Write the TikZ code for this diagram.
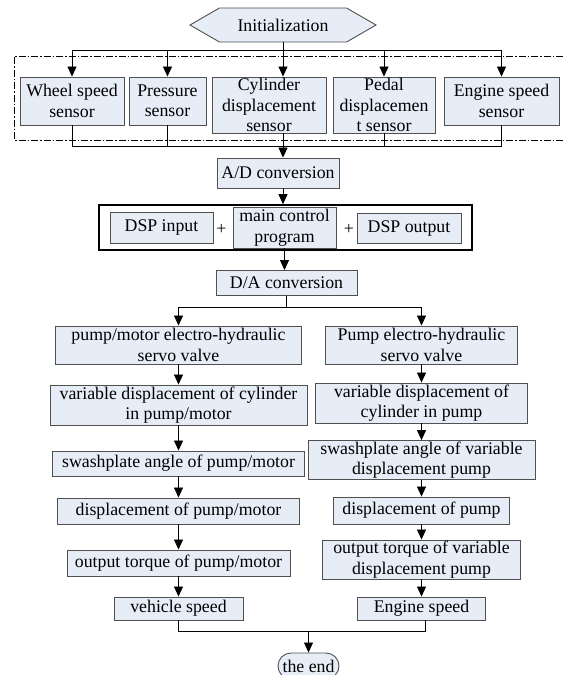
\documentclass[tikz,border=0pt]{standalone}
\usepackage{fontspec}
\setmainfont{Liberation Serif}
\usetikzlibrary{shapes.symbols, shapes.misc, positioning, arrows.meta}
\definecolor{BoxFill}{HTML}{E7EDF7}
\definecolor{BoxLine}{HTML}{505050}

\begin{document}
\begin{tikzpicture}[x=1pt, y=-1pt,
        box/.style={draw=BoxLine, fill=BoxFill, line width=0.9pt, align=center, inner sep=1pt, font=\fontsize{17.8}{20.5}\selectfont},
        arr/.style={-{Triangle[length=10pt, width=9pt]}, line width=0.8pt},
        link/.style={line width=0.8pt}]
    \useasboundingbox (0,0) rectangle (563,675);

    % Sensor frame
    \draw[line width=0.7pt, dash pattern=on 7pt off 2pt on 1.5pt off 2pt] (563,56) -- (14,56) -- (14,140) -- (563,140);

    % Initialization
    \node[box, signal, signal to=west and east, signal pointer angle=60, minimum width=186, minimum height=34] (init) at (283,25) {Initialization};

    % Sensors
    \node[box, minimum width=104, minimum height=48] (wheel) at (72,101) {Wheel speed\\sensor};
    \node[box, minimum width=77, minimum height=48] (pressure) at (167.5,101) {Pressure\\sensor};
    \node[box, minimum width=114, minimum height=56] (cylinder) at (269,105) {Cylinder\\displacement\\sensor};
    \node[box, minimum width=102, minimum height=56] (pedal) at (384,105) {Pedal\\displacemen\\t sensor};
    \node[box, minimum width=115, minimum height=48] (engine) at (501.5,101) {Engine speed\\sensor};

    % A/D
    \node[box, minimum width=122, minimum height=30] (ad) at (278,173) {A/D conversion};

    % DSP
    \node[draw, line width=1.6pt, minimum width=373, minimum height=45] (dsp) at (285.5,227.5) {};
    \node[box, minimum width=103, minimum height=31] (dspin) at (161.5,227.5) {DSP input};
    \node[font=\fontsize{17.8}{20.5}\selectfont] (plusa) at (221.5,229) {+};
    \node[box, minimum width=103, minimum height=41] (mcp) at (284.5,227.5) {main control\\program};
    \node[font=\fontsize{17.8}{20.5}\selectfont] (plusb) at (349,229) {+};
    \node[box, minimum width=104, minimum height=30] (dspout) at (409,228) {DSP output};

    % D/A
    \node[box, minimum width=141, minimum height=25] (da) at (286.5,283) {D/A conversion};

    % Pump/motor branch
    \node[box, minimum width=246, minimum height=38] (lone) at (178.5,345) {pump/motor electro-hydraulic\\servo valve};
    \node[box, minimum width=257, minimum height=40] (ltwo) at (178.5,405) {variable displacement of cylinder\\in pump/motor};
    \node[box, minimum width=252, minimum height=25] (lthree) at (178.5,463.5) {swashplate angle of pump/motor};
    \node[box, minimum width=242, minimum height=26] (lfour) at (178.5,511) {displacement of pump/motor};
    \node[box, minimum width=223, minimum height=26] (lfive) at (178.5,563) {output torque of pump/motor};
    \node[box, minimum width=129, minimum height=23] (lsix) at (178.5,608.5) {vehicle speed};

    % Pump branch
    \node[box, minimum width=192, minimum height=38] (rone) at (421.5,345) {Pump electro-hydraulic\\servo valve};
    \node[box, minimum width=212, minimum height=40] (rtwo) at (421.5,403) {variable displacement of\\cylinder in pump};
    \node[box, minimum width=227, minimum height=38] (rthree) at (421.5,460) {swashplate angle of variable\\displacement pump};
    \node[box, minimum width=176, minimum height=27] (rfour) at (421.5,510.5) {displacement of pump};
    \node[box, minimum width=198, minimum height=39] (rfive) at (421.5,559.5) {output torque of variable\\displacement pump};
    \node[box, minimum width=128, minimum height=23] (rsix) at (421.5,608.5) {Engine speed};

    % End
    \node[box, rounded rectangle, minimum width=63, minimum height=26] (theend) at (308.5,666) {the end};

    % Junctions
    \coordinate (split) at (283,50);
    \coordinate (join) at (283,146);
    \coordinate (fork) at (286.5,307);
    \coordinate (merge) at (308.5,631);

    % Arrows to sensors
    \draw[link] (init.south) -- (split);
    \draw[arr] (split) -| (wheel.north);
    \draw[arr] (split) -| (pressure.north);
    \draw[arr] (split) -- (split |- cylinder.north);
    \draw[arr] (split) -| (pedal.north);
    \draw[arr] (split) -| (engine.north);

    % Sensors to A/D
    \draw[link] (wheel.south) |- (join);
    \draw[link] (pressure.south) |- (join);
    \draw[link] (join |- cylinder.south) -- (join);
    \draw[link] (pedal.south) |- (join);
    \draw[link] (engine.south) |- (join);
    \draw[arr] (join) -- (join |- ad.north);

    % A/D to DSP to D/A
    \draw[arr] (join |- ad.south) -- (join |- dsp.north);
    \draw[arr] (mcp.south) -- (mcp.south |- da.north);

    % Fork
    \draw[link] (da.south) -- (fork);
    \draw[arr] (fork) -| (lone.north);
    \draw[arr] (fork) -| (rone.north);

    % Left column
    \draw[arr] (lone) -- (ltwo);
    \draw[arr] (ltwo) -- (lthree);
    \draw[arr] (lthree) -- (lfour);
    \draw[arr] (lfour) -- (lfive);
    \draw[arr] (lfive) -- (lsix);

    % Right column
    \draw[arr] (rone) -- (rtwo);
    \draw[arr] (rtwo) -- (rthree);
    \draw[arr] (rthree) -- (rfour);
    \draw[arr] (rfour) -- (rfive);
    \draw[arr] (rfive) -- (rsix);

    % Merge to end
    \draw[link] (lsix.south) |- (merge);
    \draw[link] ([xshift=3.5pt]rsix.south) |- (merge);
    \draw[arr] (merge) -- (theend.north);
\end{tikzpicture}
\end{document}
